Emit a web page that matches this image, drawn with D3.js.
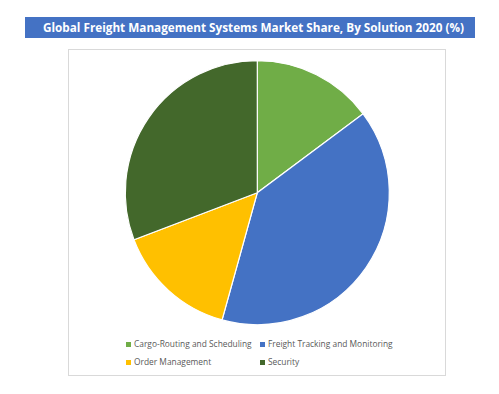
<!DOCTYPE html>
<html>
<head>
<meta charset="utf-8">
<script src="https://cdn.jsdelivr.net/npm/d3@7"></script>
<style>
  body { margin: 0; background: #fff; }
</style>
</head>
<body>
<svg id="chart"></svg>
<script>
// Data (share in %)
const solutions = ["Cargo-Routing and Scheduling", "Freight Tracking and Monitoring", "Order Management", "Security"];
const shares = [14.8, 39.5, 14.9, 30.8];
const colors = ["#70ad47", "#4472c4", "#ffc000", "#43682b"];

const width = 499, height = 394;
const svg = d3.select("#chart")
    .attr("width", width)
    .attr("height", height)
    .style("font-family", "'Open Sans', sans-serif");

// Title bar
svg.append("rect")
    .attr("x", 25).attr("y", 17)
    .attr("width", 450).attr("height", 21)
    .attr("fill", "#4472c4");

svg.append("text")
    .attr("x", 253.5).attr("y", 32)
    .attr("text-anchor", "middle")
    .attr("fill", "#fff")
    .attr("textLength", 421)
    .attr("lengthAdjust", "spacingAndGlyphs")
    .style("font-size", "12.5px")
    .style("font-weight", "bold")
    .text("Global Freight Management Systems Market Share, By Solution 2020 (%)");

// Chart area border
svg.append("rect")
    .attr("x", 68.5).attr("y", 49.5)
    .attr("width", 377).attr("height", 326)
    .attr("fill", "#fff")
    .attr("stroke", "#d9d9d9");

const data = solutions.map((s, i) => ({name: s, value: shares[i]}));
const color = d3.scaleOrdinal().domain(solutions).range(colors);

const pie = d3.pie().value(d => d.value).sort(null);
const arc = d3.arc().innerRadius(0).outerRadius(132);

const g = svg.append("g").attr("transform", "translate(257.3,192.7)");
g.selectAll("path")
    .data(pie(data))
    .enter().append("path")
    .attr("d", arc)
    .attr("fill", d => color(d.data.name))
    .attr("stroke", "#fff")
    .attr("stroke-width", 1.2);

// Legend (2 columns)
const legend = svg.selectAll(".legend")
    .data(solutions)
    .enter().append("g")
    .attr("class", "legend")
    .attr("transform", (d, i) => `translate(${126 + (i % 2) * 134}, ${345 + Math.floor(i / 2) * 18})`);

legend.append("rect")
    .attr("x", 0).attr("y", -3)
    .attr("width", 5).attr("height", 5)
    .attr("fill", d => color(d));

legend.append("text")
    .attr("x", 8).attr("y", 0)
    .attr("dominant-baseline", "middle")
    .attr("fill", "#595959")
    .style("font-size", "8.4px")
    .text(d => d);
</script>
</body>
</html>
